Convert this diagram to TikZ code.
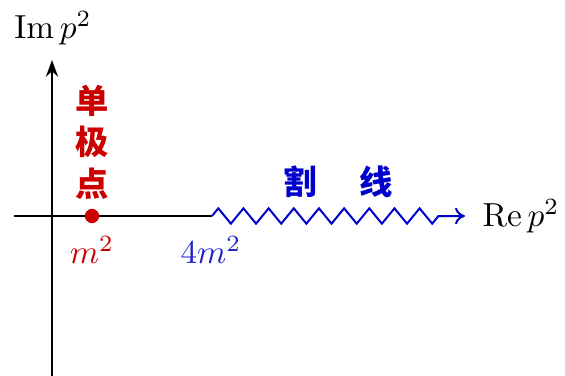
\documentclass[tikz,border=0pt]{standalone}
\usepackage{fontspec}
\newfontfamily\cjk{Noto Sans CJK SC}
\usetikzlibrary{arrows.meta,decorations.pathmorphing}

\definecolor{polered}{RGB}{204,0,0}
\definecolor{cutblue}{RGB}{0,0,204}
\definecolor{thblue}{RGB}{34,34,204}

\begin{document}
\begin{tikzpicture}[
  x=0.3pt, y=-0.3pt,
  axis/.style={line width=0.6pt, black},
  cutline/.style={line width=0.6pt, cutblue, decorate,
    decoration={zigzag, segment length=7.55pt, amplitude=2.3pt, post length=7.5pt}},
  polenode/.style={shape=circle, fill=polered, inner sep=0pt, minimum size=4.3pt},
  cjklabel/.style={font=\cjk\bfseries, inner sep=0pt},
]
\useasboundingbox (0,0) rectangle (565,376);

%AXES
\coordinate (west) at (14,216);
\coordinate (origin) at (52,216);
\coordinate (south) at (52,376);
\coordinate (north) at (52,60);
\coordinate (thresh) at (212,216);
\coordinate (east) at (465,216);

\draw[axis] (west) -- (thresh);
\draw[axis, -{Stealth[length=5pt, width=3.6pt]}] (south) -- (north);
\draw[cutline, -{To[length=3pt, width=5pt]}] (thresh) -- (east);

\node (im) at (53,28) {$\mathrm{Im}\,p^2$};
\node (re) at (521,216) {$\mathrm{Re}\,p^2$};

%POLE
\node[polenode] (pole) at (92,216) {};
\node[text=polered] (msq) at (92,250) {$m^2$};
\node[text=thblue] (fourmsq) at (211,250) {$4m^2$};

%LABELS
\node[cjklabel, text=polered, align=center] (polelabel) at (92,142) {单\\[0.5pt]极\\[0.5pt]点};
\node[cjklabel, text=cutblue] (cutlabel) at (338,182) {割\hspace{1.3em}线};

\end{tikzpicture}
\end{document}
